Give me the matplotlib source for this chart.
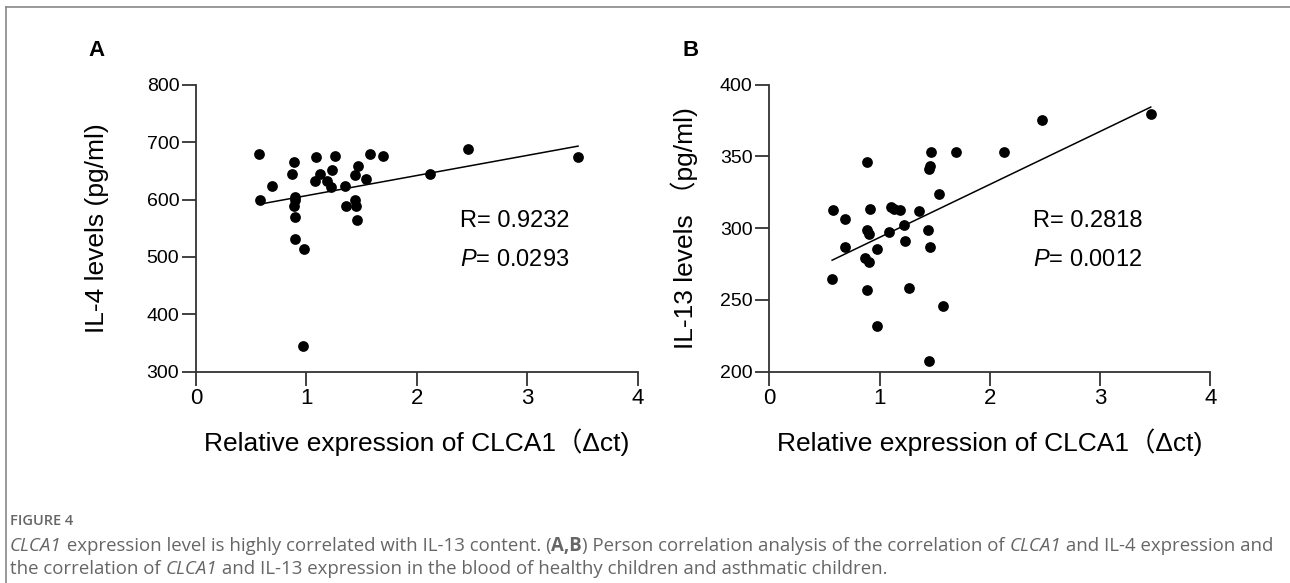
import matplotlib
matplotlib.use("Agg")
import matplotlib.pyplot as plt
from matplotlib.lines import Line2D
from matplotlib.text import Annotation

# panel A: CLCA1 vs IL-4
a_x = [0.57, 0.58, 0.69, 0.89, 0.87, 0.90, 0.90, 0.89, 0.90, 0.90, 0.98, 0.97,
       1.09, 1.12, 1.08, 1.19, 1.22, 1.23, 1.26, 1.35, 1.36, 1.44, 1.45, 1.46,
       1.47, 1.44, 1.54, 1.58, 1.69, 2.12, 2.46, 3.46]
a_y = [679, 599, 623, 665, 644, 605, 599, 588, 569, 532, 514, 345,
       674, 644, 633, 633, 622, 652, 676, 624, 589, 599, 589, 565,
       658, 643, 636, 680, 675, 644, 688, 674]
a_line_x = [0.61, 3.46]
a_line_y = [593, 693]

# panel B: CLCA1 vs IL-13
b_x = [0.58, 0.69, 0.69, 0.57, 0.89, 0.91, 0.89, 0.90, 0.87, 0.90, 0.89, 0.98,
       0.98, 1.09, 1.10, 1.13, 1.19, 1.22, 1.23, 1.27, 1.36, 1.44, 1.46, 1.46,
       1.45, 1.47, 1.54, 1.58, 1.69, 2.13, 2.47, 3.46, 1.45]
b_y = [312.5, 306.5, 286.6, 264.5, 346.1, 313.7, 298.6, 295.8, 278.9, 276.6, 256.9, 285.4,
       231.8, 297.7, 314.6, 313.7, 312.5, 302.3, 291.0, 258.2, 312.3, 298.6, 286.6, 343.1,
       341.5, 353.4, 324.1, 245.9, 353.4, 353.1, 375.4, 379.6, 207.7]
b_line_x = [0.57, 3.46]
b_line_y = [277.7, 384.4]

xticks = [0, 1, 2, 3, 4]
a_yticks = [300, 400, 500, 600, 700, 800]
b_yticks = [200, 250, 300, 350, 400]

fam = ["Liberation Sans", "Noto Sans CJK SC"]
axcol = "#333333"

plt.rcParams["mathtext.fontset"] = "custom"
plt.rcParams["mathtext.it"] = "Liberation Sans:italic"
plt.rcParams["mathtext.rm"] = "Liberation Sans"

fig = plt.figure(figsize=(12.9, 5.83), dpi=100)


def panel(rect, xs, ys, lx, ly, yticks, ylab, ypad, rtxt, ptxt, letter, lx_fig):
    ax = fig.add_axes(rect)
    ax.scatter(xs, ys, s=60, color="black", linewidths=0, zorder=3)
    ax.plot(lx, ly, color="black", lw=1.1)
    ax.set_xlim(0, 4)
    ax.set_ylim(yticks[0], yticks[-1])
    ax.set_xticks(xticks)
    ax.set_yticks(yticks)
    for s in ["top", "right"]:
        ax.spines[s].set_visible(False)
    for s in ["left", "bottom"]:
        ax.spines[s].set_color(axcol)
        ax.spines[s].set_linewidth(1.3)
    ax.tick_params(length=10, width=1.3, color=axcol, pad=2)
    ax.tick_params(axis="x", labelsize=16)
    ax.tick_params(axis="y", labelsize=14)
    for t in ax.get_xticklabels() + ax.get_yticklabels():
        t.set_family(fam)
    ax.set_xlabel("Relative expression of CLCA1（Δct)", family=fam,
                  fontsize=19, labelpad=14)
    ax.set_ylabel(ylab, family=fam, fontsize=19, labelpad=ypad)
    ax.text(0.598, 0.525, rtxt, transform=ax.transAxes, family=fam,
            fontsize=17, va="center")
    ax.text(0.598, 0.389, "$\\mathit{P}$" + ptxt, transform=ax.transAxes,
            family=fam, fontsize=17, va="center")
    fig.text(lx_fig, 1 - 50 / 583, letter, family=fam, fontsize=16,
             fontweight="bold", va="center")
    return ax


bottom = 1 - 371.7 / 583
height = 287.0 / 583
panel([196 / 1290, bottom, 441.7 / 1290, height], a_x, a_y, a_line_x, a_line_y,
      a_yticks, "IL-4 levels (pg/ml)", 27, "R= 0.9232", "= 0.0293", "A", 88 / 1290)
panel([769.3 / 1290, bottom, 441 / 1290, height], b_x, b_y, b_line_x, b_line_y,
      b_yticks, "IL-13 levels （pg/ml)", 16, "R= 0.2818", "= 0.0012", "B", 682 / 1290)

# frame border
fig.add_artist(Line2D([6 / 1290, 1], [1 - 7 / 583, 1 - 7 / 583], color="#888888", lw=1.2))
fig.add_artist(Line2D([6 / 1290, 6 / 1290], [0, 1 - 7 / 583], color="#888888", lw=1.2))

# caption
capcol = "#666666"
capfam = "Open Sans"
capsize = 13.4


def cap_line(y_px, parts):
    prev = None
    for txt, style in parts:
        kw = dict(color=capcol, family=capfam, fontsize=capsize, va="center", ha="left")
        if style == "i":
            kw["style"] = "italic"
        if style == "b":
            kw["fontweight"] = "bold"
        if prev is None:
            prev = fig.text(10 / 1290, 1 - y_px / 583, txt, **kw)
        else:
            ann = Annotation(txt, xy=(1, 0.5), xycoords=prev, **kw)
            fig.add_artist(ann)
            prev = ann


fig.text(10 / 1290, 1 - 521 / 583, "FIGURE 4", color=capcol, family=capfam,
         fontsize=10.5, fontweight="semibold", va="center")
cap_line(546, [("CLCA1", "i"),
               (" expression level is highly correlated with IL-13 content. (", "n"),
               ("A,B", "b"),
               (") Person correlation analysis of the correlation of ", "n"),
               ("CLCA1", "i"),
               (" and IL-4 expression and", "n")])
cap_line(569, [("the correlation of ", "n"),
               ("CLCA1", "i"),
               (" and IL-13 expression in the blood of healthy children and asthmatic children.", "n")])

fig.savefig("out.png", dpi=100)
